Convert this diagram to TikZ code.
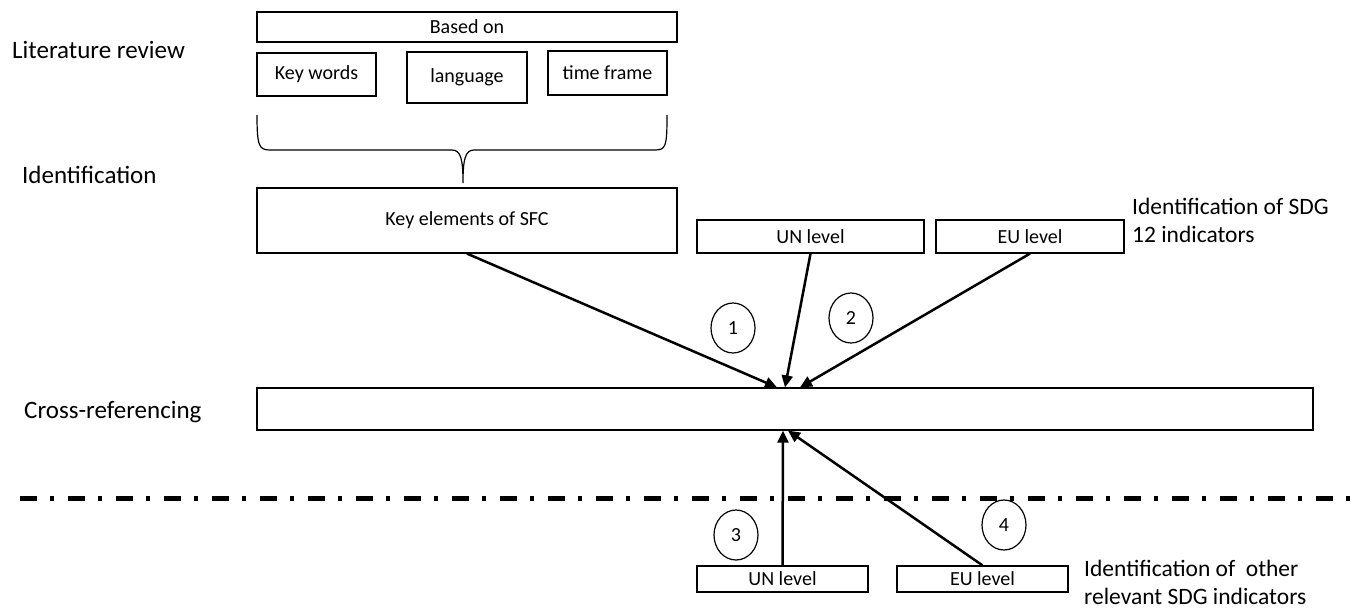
\documentclass[tikz,border=0pt]{standalone}
\usepackage{fontspec}
\setmainfont{Carlito}
\usetikzlibrary{shapes.geometric,arrows.meta,calc}

\tikzset{
  box/.style={draw, line width=1.2pt, inner sep=0pt, font=\fontsize{20}{24}\selectfont},
  numcirc/.style={draw, ellipse, line width=1.2pt, minimum width=44pt, minimum height=50pt, inner sep=0pt, font=\fontsize{20}{24}\selectfont},
  stage/.style={anchor=west, inner sep=0pt, font=\fontsize{25}{30}\selectfont},
  note/.style={anchor=west, align=left, inner sep=0pt, font=\fontsize{23.5}{28}\selectfont},
  link/.style={line width=2.5pt, -{Triangle[length=12pt,width=11pt]}},
}

\begin{document}
\begin{tikzpicture}[x=1pt,y=-1pt]
  \useasboundingbox (0,0) rectangle (1367,608);

  % stage labels
  \node[stage] (litlab) at (12,50) {Literature review};
  \node[stage] (idlab) at (22,175) {Identification};
  \node[stage] (crosslab) at (24,412) {Cross-referencing};

  % literature review
  \node[box, minimum width=420pt, minimum height=30pt] (based) at (467,27) {Based on};
  \node[box, minimum width=119pt, minimum height=43pt] (keywords) at (316.5,74.5) {Key words};
  \node[box, minimum width=120pt, minimum height=51pt] (lang) at (467,77.5) {language};
  \node[box, minimum width=119pt, minimum height=44pt] (timeframe) at (607.5,73) {time frame};

  % brace
  \draw[line width=1.2pt] (257,115) .. controls (257,146) and (259,150) .. (270,150)
    -- (452,150) .. controls (461,150) and (463,160) .. (463,183)
    .. controls (463,160) and (465,150) .. (474,150)
    -- (655,150) .. controls (666,150) and (667,146) .. (667,115);

  % identification
  \node[box, minimum width=420pt, minimum height=65pt] (sfc) at (467,220.5) {Key elements of SFC};
  \node[box, minimum width=227pt, minimum height=33pt] (unup) at (810.5,236.5) {UN level};
  \node[box, minimum width=188pt, minimum height=33pt] (euup) at (1030,236.5) {EU level};
  \node[note] (sdgnote) at (1132,220) {Identification of SDG\\12 indicators};

  % cross-referencing
  \node[box, minimum width=1056pt, minimum height=42pt] (cross) at (785,409) {};

  \node[numcirc] (n1) at (733,328) {1};
  \node[numcirc] (n2) at (851,318) {2};
  \node[numcirc] (n3) at (736,535) {3};
  \node[numcirc] (n4) at (1004,525) {4};

  \draw[link] (sfc.south) -- ($(cross.north)+(-8,0)$);
  \draw[link] (unup.south) -- (cross.north);
  \draw[link] (euup.south) -- ($(cross.north)+(15,0)$);

  % divider
  \coordinate (divl) at (20,498);
  \coordinate (divr) at (1355,498);
  \draw[line width=5pt, dash pattern=on 17pt off 13pt on 4pt off 14pt] (divl) -- (divr);

  % other indicators
  \node[box, minimum width=171pt, minimum height=26pt] (undown) at (782.5,579) {UN level};
  \node[box, minimum width=171pt, minimum height=26pt] (eudown) at (982.5,579) {EU level};
  \node[note] (othernote) at (1084,582) {Identification of\ \ other\\relevant SDG indicators};

  \draw[link] (undown.north) -- ($(cross.south)+(-2,0)$);
  \draw[link] (eudown.north) -- ($(cross.south)+(3,0)$);
\end{tikzpicture}
\end{document}
